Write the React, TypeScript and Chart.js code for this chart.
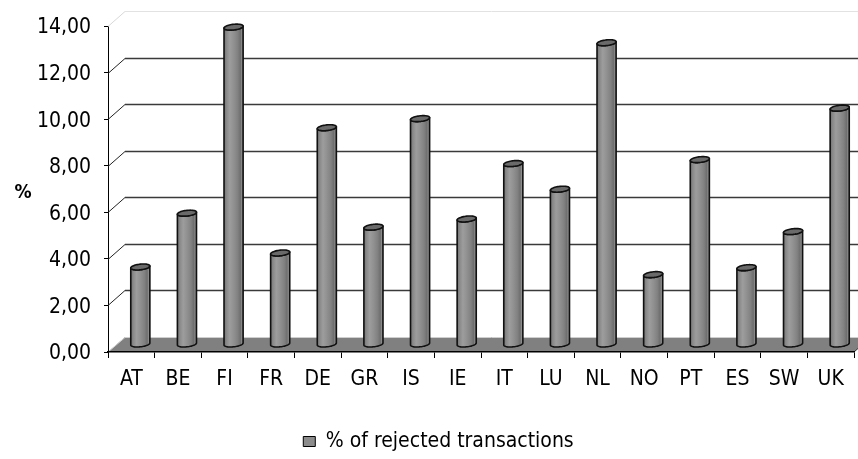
import { useEffect, useRef } from 'react';
import { Chart, registerables } from 'chart.js';

Chart.register(...registerables);

const categories = ['AT', 'BE', 'FI', 'FR', 'DE', 'GR', 'IS', 'IE', 'IT', 'LU', 'NL', 'NO', 'PT', 'ES', 'SW', 'UK'];
const rejectedPct = [3.33, 5.64, 13.63, 3.93, 9.31, 5.04, 9.7, 5.39, 7.77, 6.67, 12.96, 3.0, 7.94, 3.3, 4.85, 10.15];
const yTicks = [0, 2, 4, 6, 8, 10, 12, 14];
const seriesLabel = '% of rejected transactions';
const yAxisTitle = '%';

const DX = 17;
const DY = 15;

function fontAvailable(name: string): boolean {
  const c = document.createElement('canvas').getContext('2d');
  if (!c) return false;
  const s = 'mmmmmmmmmmlli14,00 WSUK';
  c.font = '40px monospace';
  const w1 = c.measureText(s).width;
  c.font = `40px '${name}', monospace`;
  const w2 = c.measureText(s).width;
  return Math.abs(w1 - w2) > 0.5;
}

const NARROW = fontAvailable('Liberation Sans Narrow')
  ? 'Liberation Sans Narrow'
  : fontAvailable('DejaVu Sans Condensed')
  ? 'DejaVu Sans Condensed'
  : '';
const FONT = NARROW ? `'${NARROW}', 'Liberation Sans', Arial, sans-serif` : "'Liberation Sans', Arial, sans-serif";
const SIZE = NARROW === 'Liberation Sans Narrow' ? 25 : 21;

function drawCylinder(ctx: CanvasRenderingContext2D, cx: number, topY: number, baseY: number) {
  const rx = 9;
  const ax = 3.2;
  const ry = 3;
  const pt = (t: number, cy: number): [number, number] => [cx + rx * Math.cos(t) + ax * Math.sin(t), cy - ry * Math.sin(t)];
  const t0 = Math.atan2(ax, rx);
  const halfW = Math.hypot(rx, ax);
  const N = 28;
  const grad = ctx.createLinearGradient(cx - halfW, 0, cx + halfW, 0);
  grad.addColorStop(0, '#707070');
  grad.addColorStop(0.12, '#888888');
  grad.addColorStop(0.3, '#9d9d9d');
  grad.addColorStop(0.5, '#919191');
  grad.addColorStop(0.72, '#818181');
  grad.addColorStop(0.86, '#6e6e6e');
  grad.addColorStop(0.93, '#8c8c8c');
  grad.addColorStop(1, '#727272');
  ctx.save();
  ctx.lineJoin = 'round';
  ctx.beginPath();
  let p = pt(t0 + Math.PI, topY);
  ctx.moveTo(p[0], p[1]);
  p = pt(t0 + Math.PI, baseY);
  ctx.lineTo(p[0], p[1]);
  for (let i = 1; i <= N; i++) {
    const t = t0 + Math.PI + (Math.PI * i) / N;
    p = pt(t, baseY);
    ctx.lineTo(p[0], p[1]);
  }
  p = pt(t0, topY);
  ctx.lineTo(p[0], p[1]);
  for (let i = 1; i <= N; i++) {
    const t = t0 + 2 * Math.PI - (Math.PI * i) / N;
    p = pt(t, topY);
    ctx.lineTo(p[0], p[1]);
  }
  ctx.closePath();
  ctx.fillStyle = grad;
  ctx.fill();
  ctx.strokeStyle = '#111';
  ctx.lineWidth = 1.6;
  ctx.stroke();
  ctx.beginPath();
  for (let i = 0; i <= N * 2; i++) {
    const t = (2 * Math.PI * i) / (N * 2);
    p = pt(t, topY);
    if (i === 0) ctx.moveTo(p[0], p[1]);
    else ctx.lineTo(p[0], p[1]);
  }
  ctx.closePath();
  ctx.fillStyle = '#6a6a6a';
  ctx.fill();
  ctx.stroke();
  ctx.restore();
}

const threeDPlugin = {
  id: 'threeD',
  afterLayout(chart: any) {
    const lg = chart.legend;
    if (lg) {
      lg.top += 3;
      lg.bottom += 3;
    }
  },
  beforeDatasetsDraw(chart: any) {
    const { ctx, chartArea: a, scales } = chart;
    const y = scales.y;
    ctx.save();
    for (const v of yTicks) {
      if (v === 0) continue;
      const py = Math.round(y.getPixelForValue(v)) + 0.5;
      const isTop = v === yTicks[yTicks.length - 1];
      ctx.lineWidth = 1;
      ctx.strokeStyle = isTop ? '#d8d8d8' : '#222';
      ctx.beginPath();
      ctx.moveTo(a.left, py);
      ctx.lineTo(a.left + DX, py - DY);
      ctx.stroke();
      ctx.strokeStyle = isTop ? '#e2e2e2' : '#3a3a3a';
      ctx.lineWidth = isTop ? 1 : 1.6;
      ctx.beginPath();
      ctx.moveTo(a.left + DX, py - DY);
      ctx.lineTo(chart.width, py - DY);
      ctx.stroke();
    }
    const by = y.getPixelForValue(0);
    ctx.fillStyle = '#808080';
    ctx.beginPath();
    ctx.moveTo(a.left, by);
    ctx.lineTo(a.right, by);
    ctx.lineTo(a.right + DX, by - DY);
    ctx.lineTo(a.left + DX, by - DY);
    ctx.closePath();
    ctx.fill();
    ctx.strokeStyle = '#cfcfcf';
    ctx.lineWidth = 1;
    ctx.beginPath();
    ctx.moveTo(a.left, by);
    ctx.lineTo(a.left + DX, by - DY + 0.5);
    ctx.lineTo(chart.width, by - DY + 0.5);
    ctx.stroke();
    ctx.strokeStyle = '#333';
    ctx.beginPath();
    ctx.moveTo(a.right, by);
    ctx.lineTo(a.right + DX, by - DY);
    ctx.stroke();
    ctx.restore();
  },
  afterDatasetsDraw(chart: any) {
    const { ctx } = chart;
    const meta = chart.getDatasetMeta(0);
    meta.data.forEach((el: any) => {
      const { x, y, base } = el.getProps(['x', 'y', 'base'], true);
      drawCylinder(ctx, x + 9, y - DY / 2, base - DY / 2);
    });
  },
  afterDraw(chart: any) {
    const { ctx } = chart;
    ctx.save();
    ctx.fillStyle = '#000';
    ctx.font = `bold ${SIZE - 2}px ${FONT}`;
    ctx.textAlign = 'center';
    ctx.textBaseline = 'middle';
    ctx.fillText(yAxisTitle, 23, 193);
    ctx.restore();
  },
};

export default function App() {
  const canvasRef = useRef<HTMLCanvasElement | null>(null);

  useEffect(() => {
    if (!canvasRef.current) return;
    const chart = new Chart(canvasRef.current, {
      type: 'bar',
      data: {
        labels: categories,
        datasets: [
          {
            label: seriesLabel,
            data: rejectedPct,
            backgroundColor: 'rgba(0,0,0,0)',
            borderWidth: 0,
          },
        ],
      },
      options: {
        animation: false,
        responsive: true,
        maintainAspectRatio: false,
        layout: { padding: { left: 23, right: 4, top: 26, bottom: 0 } },
        plugins: {
          tooltip: { enabled: false },
          legend: {
            position: 'bottom',
            labels: {
              boxWidth: 12,
              boxHeight: 10,
              padding: 2,
              color: '#000',
              font: { family: FONT, size: SIZE },
              generateLabels: () => [
                {
                  text: seriesLabel,
                  fillStyle: '#8c8c8c',
                  strokeStyle: '#000',
                  lineWidth: 1,
                  hidden: false,
                  datasetIndex: 0,
                },
              ],
            },
          },
        },
        scales: {
          x: {
            afterFit: (scale: any) => {
              scale.height = 74;
            },
            grid: { display: true, drawOnChartArea: false, drawTicks: true, tickLength: 6, color: '#000', offset: true },
            border: { display: true, color: '#000', width: 1.5, z: 1 },
            ticks: { color: '#000', padding: 9, font: { family: FONT, size: SIZE }, maxRotation: 0, autoSkip: false },
          },
          y: {
            min: 0,
            max: 14,
            afterFit: (scale: any) => {
              scale.width = 85;
            },
            afterBuildTicks: (scale: any) => {
              scale.ticks = yTicks.map((v) => ({ value: v }));
            },
            grid: { display: true, drawOnChartArea: false, drawTicks: true, tickLength: 4, color: '#000' },
            border: { display: true, color: '#000', width: 1 },
            ticks: {
              color: '#000',
              padding: 13,
              labelOffset: 2,
              font: { family: FONT, size: SIZE },
              callback: (v: any) => Number(v).toFixed(2).replace('.', ','),
            },
          },
        },
      },
      plugins: [threeDPlugin],
    });
    return () => chart.destroy();
  }, []);

  return (
    <div style={{ position: 'absolute', left: 0, top: 0, width: 858, height: 459 }}>
      <canvas ref={canvasRef} />
    </div>
  );
}
